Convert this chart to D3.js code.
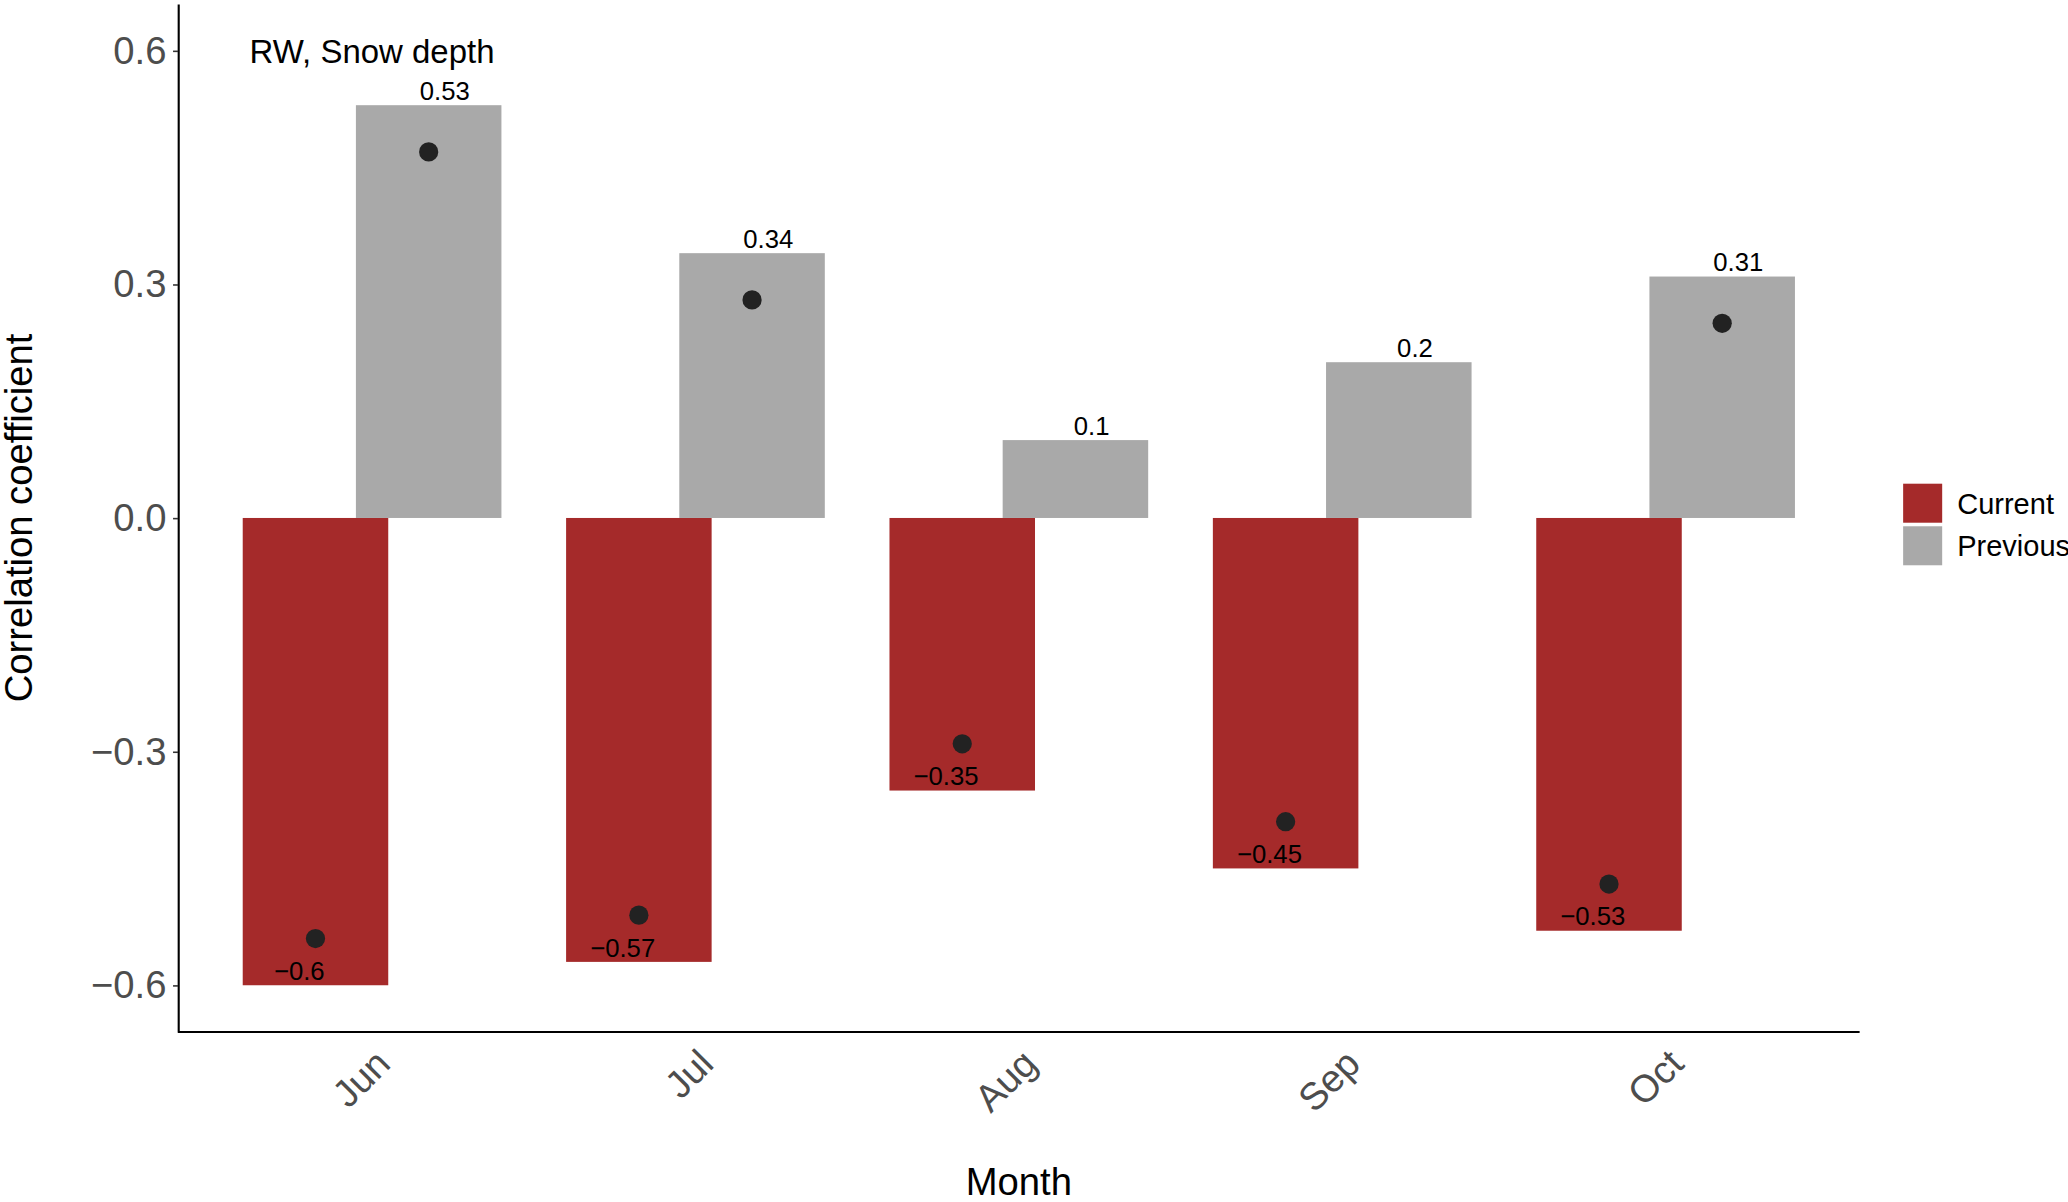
<!DOCTYPE html>
<html>
<head>
<meta charset="utf-8">
<script src="https://cdn.jsdelivr.net/npm/d3@7"></script>
<style>
  body { margin: 0; background: #fff; }
  text { font-family: "Liberation Sans", Arial, Helvetica, sans-serif; }
</style>
</head>
<body>
<svg id="chart"></svg>
<script>
// data
const months = ["Jun", "Jul", "Aug", "Sep", "Oct"];
const currentValues = [-0.6, -0.57, -0.35, -0.45, -0.53];
const previousValues = [0.53, 0.34, 0.1, 0.2, 0.31];
// dots (null = no dot drawn)
const currentDots = [-0.54, -0.51, -0.29, -0.39, -0.47];
const previousDots = [0.47, 0.28, null, null, 0.25];
const yTicks = [-0.6, -0.3, 0, 0.3, 0.6];
const seriesNames = ["Current", "Previous"];
const seriesColors = ["#A52A2A", "#A9A9A9"];
const panelNote = "RW, Snow depth";

// drawn in a 1568 x 912 frame, then scaled to the window
const W = 1568, H = 912;
const panel = {left: 135, right: 1410, top: 3, bottom: 783};

const svg = d3.select("#chart")
    .attr("width", 2068)
    .attr("height", 1202)
    .attr("viewBox", "0 0 " + W + " " + H)
    .attr("preserveAspectRatio", "none");

let x = d3.scalePoint()
    .domain(months)
    .range([panel.left, panel.right])
    .padding(0.6);
let step = x.step();

let y = d3.scaleLinear()
    .domain([-0.66, 0.66])
    .range([panel.bottom, panel.top]);

let barW = step * 0.45;
let barShift = step * 0.175;   // bar dodge
let labelShift = step * 0.225; // text dodge

let rows = months.map(function(m, i) {
    return {month: m, cur: currentValues[i], prev: previousValues[i],
            curDot: currentDots[i], prevDot: previousDots[i]};
});

let fmt = function(v) { return String(v).replace("-", "\u2212"); };

// bars
let g = svg.append("g");
g.selectAll("rect.cur")
    .data(rows).enter().append("rect")
    .attr("class", "cur")
    .attr("x", d => x(d.month) - barShift - barW / 2)
    .attr("width", barW)
    .attr("y", d => y(Math.max(0, d.cur)))
    .attr("height", d => Math.abs(y(d.cur) - y(0)))
    .attr("fill", seriesColors[0]);

g.selectAll("rect.prev")
    .data(rows).enter().append("rect")
    .attr("class", "prev")
    .attr("x", d => x(d.month) + barShift - barW / 2)
    .attr("width", barW)
    .attr("y", d => y(Math.max(0, d.prev)))
    .attr("height", d => Math.abs(y(d.prev) - y(0)))
    .attr("fill", seriesColors[1]);

// dots
g.selectAll("circle.cur")
    .data(rows.filter(d => d.curDot != null)).enter().append("circle")
    .attr("cx", d => x(d.month) - barShift)
    .attr("cy", d => y(d.curDot))
    .attr("r", 7.3)
    .attr("fill", "#222");

g.selectAll("circle.prev")
    .data(rows.filter(d => d.prevDot != null)).enter().append("circle")
    .attr("cx", d => x(d.month) + barShift)
    .attr("cy", d => y(d.prevDot))
    .attr("r", 7.3)
    .attr("fill", "#222");

// value labels
g.selectAll("text.curLab")
    .data(rows).enter().append("text")
    .attr("x", d => x(d.month) - labelShift)
    .attr("y", d => y(d.cur) - 4)
    .attr("text-anchor", "middle")
    .attr("font-size", 19.5)
    .attr("fill", "#000")
    .text(d => fmt(d.cur));

g.selectAll("text.prevLab")
    .data(rows).enter().append("text")
    .attr("x", d => x(d.month) + labelShift)
    .attr("y", d => y(d.prev) - 4)
    .attr("text-anchor", "middle")
    .attr("font-size", 19.5)
    .attr("fill", "#000")
    .text(d => fmt(d.prev));

// note in the panel
g.append("text")
    .attr("x", x(months[0]))
    .attr("y", y(0.6))
    .attr("dy", "0.36em")
    .attr("text-anchor", "middle")
    .attr("font-size", 25)
    .attr("fill", "#000")
    .text(panelNote);

// y axis
let yAxis = d3.axisLeft(y)
    .tickValues(yTicks)
    .tickFormat(d3.format(".1f"))
    .tickSizeInner(3.8)
    .tickSizeOuter(0)
    .tickPadding(5);

let yG = svg.append("g")
    .attr("transform", "translate(" + panel.left + ",0)")
    .call(yAxis);
yG.select(".domain").attr("stroke", "#000").attr("stroke-width", 1.6);
yG.selectAll(".tick line").attr("stroke", "#333").attr("stroke-width", 1.2);
yG.selectAll(".tick text")
    .attr("font-size", 29)
    .attr("font-family", null)
    .attr("fill", "#4D4D4D");

// x axis
let xAxis = d3.axisBottom(x).tickSize(0).tickSizeOuter(0);
let xG = svg.append("g")
    .attr("transform", "translate(0," + panel.bottom + ")")
    .call(xAxis);
xG.select(".domain")
    .attr("d", "M" + panel.left + ",0H" + panel.right)
    .attr("stroke", "#000").attr("stroke-width", 1.6);
xG.selectAll(".tick text")
    .attr("font-size", 29)
    .attr("font-family", null)
    .attr("fill", "#4D4D4D")
    .attr("text-anchor", "end")
    .attr("x", 0)
    .attr("y", 0)
    .attr("dy", "0.72em")
    .attr("transform", "translate(0,11) rotate(-45)");

// axis titles
svg.append("text")
    .attr("x", (panel.left + panel.right) / 2)
    .attr("y", 907)
    .attr("text-anchor", "middle")
    .attr("font-size", 29)
    .attr("fill", "#000")
    .text("Month");

svg.append("text")
    .attr("transform", "translate(24," + ((panel.top + panel.bottom) / 2) + ") rotate(-90)")
    .attr("text-anchor", "middle")
    .attr("font-size", 29)
    .attr("fill", "#000")
    .text("Correlation coefficient");

// legend
let legend = svg.append("g").attr("transform", "translate(1443,367)");
seriesNames.forEach(function(name, i) {
    legend.append("rect")
        .attr("x", 0)
        .attr("y", i * 32.3)
        .attr("width", 29.6)
        .attr("height", 29.6)
        .attr("fill", seriesColors[i]);
    legend.append("text")
        .attr("x", 41)
        .attr("y", i * 32.3 + 14.8)
        .attr("dy", "0.36em")
        .attr("font-size", 22)
        .attr("fill", "#000")
        .text(name);
});
</script>
</body>
</html>
